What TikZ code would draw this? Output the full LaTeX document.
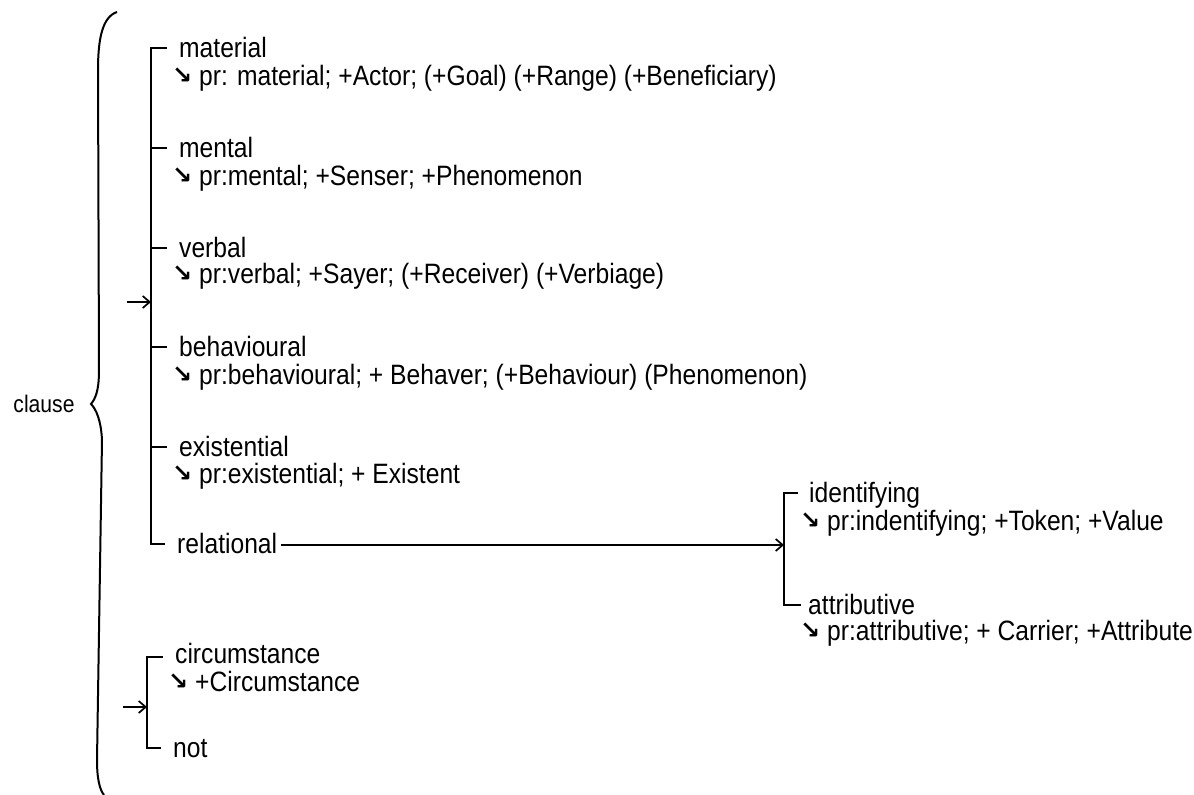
\documentclass[tikz,border=0pt]{standalone}
\usepackage{fontspec}
\setmainfont{Liberation Sans}[FakeStretch=0.88]
\newfontfamily\arrfont{DejaVu Sans Bold}
\usetikzlibrary{arrows.meta}
\newcommand{\sw}{\makebox[27pt][l]{\raisebox{2pt}{\arrfont\fontsize{24}{24}\selectfont ↘}}}
\tikzset{
  lbl/.style={anchor=base west, inner sep=0pt, font=\fontsize{28}{32}\selectfont},
  det/.style={anchor=base west, inner sep=0pt, font=\fontsize{28}{32}\selectfont},
  sysline/.style={line width=2.2pt, line cap=rect},
  entry/.style={line width=1.7pt, -{Straight Barb[length=7pt,width=12pt,line width=1.7pt]}},
}
\begin{document}
\begin{tikzpicture}[x=1pt,y=-1pt]
\useasboundingbox (0,0) rectangle (1194,795);
% clause and brace
\node[anchor=base, inner sep=0pt, font=\fontsize{24}{28}\selectfont] (clause) at (44,412) {clause};
\coordinate (bracetip) at (91,404);
\draw[line width=2pt] (117,12) .. controls (102,17) and (98,40) .. (98,70)
  -- (99,370) .. controls (99,392) and (95,399) .. (bracetip)
  .. controls (96,409) and (101,420) .. (102,440)
  -- (97,760) .. controls (97,780) and (100,790) .. (104,795);
% main system
\coordinate (sx) at (151,48);
\node[lbl] (material) at (179,57) {material};
\node[det] (materialpr) at (172,85) {\sw pr: material; +Actor; (+Goal) (+Range) (+Beneficiary)};
\node[lbl] (mental) at (179,157) {mental};
\node[det] (mentalpr) at (172,185) {\sw pr:mental; +Senser; +Phenomenon};
\node[lbl] (verbal) at (179,257) {verbal};
\node[det] (verbalpr) at (172,283) {\sw pr:verbal; +Sayer; (+Receiver) (+Verbiage)};
\node[lbl] (behavioural) at (179,356) {behavioural};
\node[det] (behaviouralpr) at (172,384) {\sw pr:behavioural; + Behaver; (+Behaviour) (Phenomenon)};
\node[lbl] (existential) at (179,456) {existential};
\node[det] (existentialpr) at (172,483) {\sw pr:existential; + Existent};
\node[lbl] (relational) at (177,553) {relational};
\foreach \n in {material,mental,verbal,behavioural,existential,relational}
  \coordinate (\n T) at ([xshift=-13pt,yshift=9pt]\n.base west);
\draw[sysline] (materialT) -- (sx |- materialT) -- (sx |- relationalT) -- (relationalT);
\foreach \n in {mental,verbal,behavioural,existential}
  \draw[sysline] (sx |- \n T) -- (\n T);
\coordinate (mainin) at (127,302);
\draw[entry] (mainin) -- (sx |- mainin);
% relational subsystem
\coordinate (rx) at (784,493);
\node[lbl] (identifying) at (809,502) {identifying};
\node[det] (identifyingpr) at (800,530) {\sw pr:indentifying; +Token; +Value};
\node[lbl] (attributive) at (808,614) {attributive};
\node[det] (attributivepr) at (800,640) {\sw pr:attributive; + Carrier; +Attribute};
\coordinate (identifyingT) at ([xshift=-12pt,yshift=9pt]identifying.base west);
\coordinate (attributiveT) at ([xshift=-8pt,yshift=9pt]attributive.base west);
\draw[sysline] (identifyingT) -- (rx |- identifyingT) -- (rx |- attributiveT) -- (attributiveT);
\coordinate (relout) at ([xshift=4pt,yshift=8pt]relational.base east);
\draw[entry] (relout) -- (rx |- relout);
% circumstance system
\coordinate (cx) at (147,657);
\node[lbl] (circumstance) at (175,663) {circumstance};
\node[det] (circumstancepr) at (168,691) {\sw +Circumstance};
\node[lbl] (not) at (173,757) {not};
\coordinate (circumstanceT) at ([xshift=-13pt,yshift=6pt]circumstance.base west);
\coordinate (notT) at ([xshift=-13pt,yshift=9pt]not.base west);
\draw[sysline] (circumstanceT) -- (cx |- circumstanceT) -- (cx |- notT) -- (notT);
\coordinate (circin) at (123,707);
\draw[entry] (circin) -- (cx |- circin);
\end{tikzpicture}
\end{document}
